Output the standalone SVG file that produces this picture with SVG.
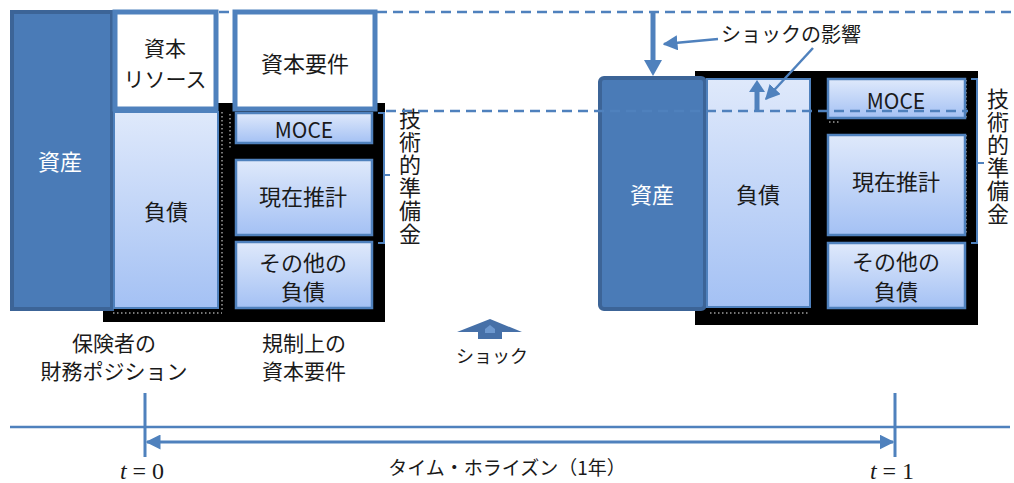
<svg xmlns="http://www.w3.org/2000/svg" width="1014" height="483" viewBox="0 0 1014 483">
<defs>
<linearGradient id="g" x1="0" y1="0" x2="0" y2="1">
<stop offset="0" stop-color="#dfe9fb"/>
<stop offset="1" stop-color="#a4c1f4"/>
</linearGradient>
<marker id="ah" viewBox="0 0 10 10" refX="9" refY="5" markerWidth="5" markerHeight="5" orient="auto-start-reverse" markerUnits="strokeWidth">
<path d="M0,0 L10,5 L0,10 z" fill="#4f81bd"/>
</marker>
<marker id="ahs" viewBox="0 0 10 10" refX="9" refY="5" markerWidth="6" markerHeight="6" orient="auto-start-reverse" markerUnits="strokeWidth">
<path d="M0,0 L10,5 L0,10 z" fill="#4f81bd"/>
</marker>
</defs>
<style>
text{font-family:"Noto Sans CJK JP","Noto Sans",sans-serif;fill:#1a1a1a;text-anchor:middle;dominant-baseline:central}
.t22{font-size:22px}
.t21{font-size:21px}
.t20{font-size:20px}
.t19{font-size:19px}
.t18{font-size:18px}
.white{fill:#ffffff}
.vert{font-size:22px;writing-mode:vertical-rl;text-anchor:start;letter-spacing:1px}
.asset{fill:#4a7bb7;stroke:#3c6497;stroke-width:4}
.cap{fill:#ffffff;stroke:#4f81bd;stroke-width:5}
.liab{fill:url(#g);stroke:#4f81bd;stroke-width:2}
.sub{fill:url(#g);stroke:#4f81bd;stroke-width:2.5}
.blk{fill:#000000}
.dash{stroke:#4f81bd;stroke-width:2.5;stroke-dasharray:10 6;fill:none}
.br{stroke:#4f81bd;stroke-width:2;fill:none}
.ln{stroke:#4f81bd;fill:none}
.dots{stroke:#777;stroke-width:2;stroke-dasharray:1.5 2.5;fill:none}
.math{font-family:"Liberation Serif",serif;font-size:24px}
</style>

<g id="backgrounds">
<rect class="blk" x="103" y="103" width="282" height="219"/>
<rect class="blk" x="695" y="71" width="283" height="254"/>
<path class="dots" d="M222 112 V310 M113 313 H222 M230 114 V150 M703 80 V310 M710 313 H808 M966 80 V120 M966 135 V235 M829 122 H840"/>
</g>

<g id="left-assets">
<rect class="asset" x="12" y="12" width="100" height="297"/>
<text class="t22 white" x="60" y="160">資産</text>
</g>
<g id="left-capital">
<rect class="cap" x="115" y="12" width="101" height="97"/>
<text class="t21" x="165" y="47">資本</text>
<text class="t21" x="165" y="78">リソース</text>
</g>
<g id="left-liabilities">
<rect class="liab" x="114" y="112" width="104" height="196" stroke="#7fa3d6"/>
<text class="t22" x="166" y="210">負債</text>
</g>
<g id="capital-req">
<rect class="cap" x="235" y="12" width="140" height="97"/>
<text class="t22" x="305" y="62">資本要件</text>
</g>
<g id="left-moce">
<rect class="sub" x="236" y="113" width="136" height="30"/>
<text class="t21" x="304" y="129">MOCE</text>
</g>
<g id="left-current">
<rect class="sub" x="236" y="160" width="136" height="75"/>
<text class="t22" x="303" y="195">現在推計</text>
</g>
<g id="left-other">
<rect class="sub" x="236" y="242" width="136" height="66"/>
<text class="t22" x="303" y="261">その他の</text>
<text class="t22" x="303" y="290">負債</text>
</g>
<g id="left-tp">
<path class="br" d="M378 113 H384 V243 H378 M384 175 H390"/>
<text class="vert" x="410" y="108">技術的準備金</text>
</g>

<g id="right-assets">
<rect class="asset" x="600" y="78" width="105" height="231" rx="4" stroke-width="5"/>
<text class="t22 white" x="652" y="193">資産</text>
</g>
<g id="right-liabilities">
<rect class="liab" x="707" y="79" width="103" height="228"/>
<text class="t22" x="758" y="193">負債</text>
</g>
<g id="right-moce">
<rect class="sub" x="828" y="79" width="137" height="39"/>
<text class="t21" x="896" y="100">MOCE</text>
</g>
<g id="right-current">
<rect class="sub" x="828" y="135" width="137" height="100"/>
<text class="t22" x="896" y="180">現在推計</text>
</g>
<g id="right-other">
<rect class="sub" x="828" y="243" width="137" height="65"/>
<text class="t22" x="896" y="260">その他の</text>
<text class="t22" x="896" y="290">負債</text>
</g>
<g id="right-tp">
<path class="br" d="M971 79 H977 V243 H971 M977 163 H984"/>
<text class="vert" x="998" y="88">技術的準備金</text>
</g>

<g id="connectors">
<path class="dash" d="M219 12 H233 M377 12 H1012"/>
<path class="dash" d="M386 111 H968"/>
<path class="ln" stroke-width="5" d="M653 12 V62"/>
<path d="M644 60 L662 60 L653 76 z" fill="#4f81bd"/>
<path class="ln" stroke-width="5" d="M757 110 V90"/>
<path d="M749 92 L765 92 L757 80 z" fill="#4f81bd"/>
<path class="ln" stroke-width="2.5" d="M718 39 L664 44" marker-end="url(#ahs)"/>
<path class="ln" stroke-width="2.5" d="M813 48 L766 99" marker-end="url(#ahs)"/>
</g>

<g id="shock-impact-label">
<text class="t20" x="791" y="33">ショックの影響</text>
</g>

<g id="shock">
<path d="M457 332 L490 319 L522 332 L502 332 L502 339 L478 339 L478 332 z" fill="#4670a8"/>
<path d="M485 329 L490 325 L495 329 L495 333 L485 333 z" fill="#6d98cf"/>
<text class="t18" x="492" y="355">ショック</text>
</g>

<g id="labels">
<text class="t21" x="114" y="342">保険者の</text>
<text class="t21" x="114" y="370">財務ポジション</text>
<text class="t21" x="304" y="342">規制上の</text>
<text class="t21" x="304" y="370">資本要件</text>
</g>

<g id="timeline">
<path class="ln" stroke-width="2.5" d="M10 427 H1010"/>
<path class="ln" stroke-width="3" d="M145 393 V457 M895 393 V457"/>
<path class="ln" stroke-width="3" d="M147 442 H893" marker-start="url(#ah)" marker-end="url(#ah)"/>
<text class="t19" x="507" y="466">タイム・ホライズン（1年）</text>
<text class="math" x="142" y="471"><tspan font-style="italic">t</tspan> = 0</text>
<text class="math" x="892" y="471"><tspan font-style="italic">t</tspan> = 1</text>
</g>
</svg>
